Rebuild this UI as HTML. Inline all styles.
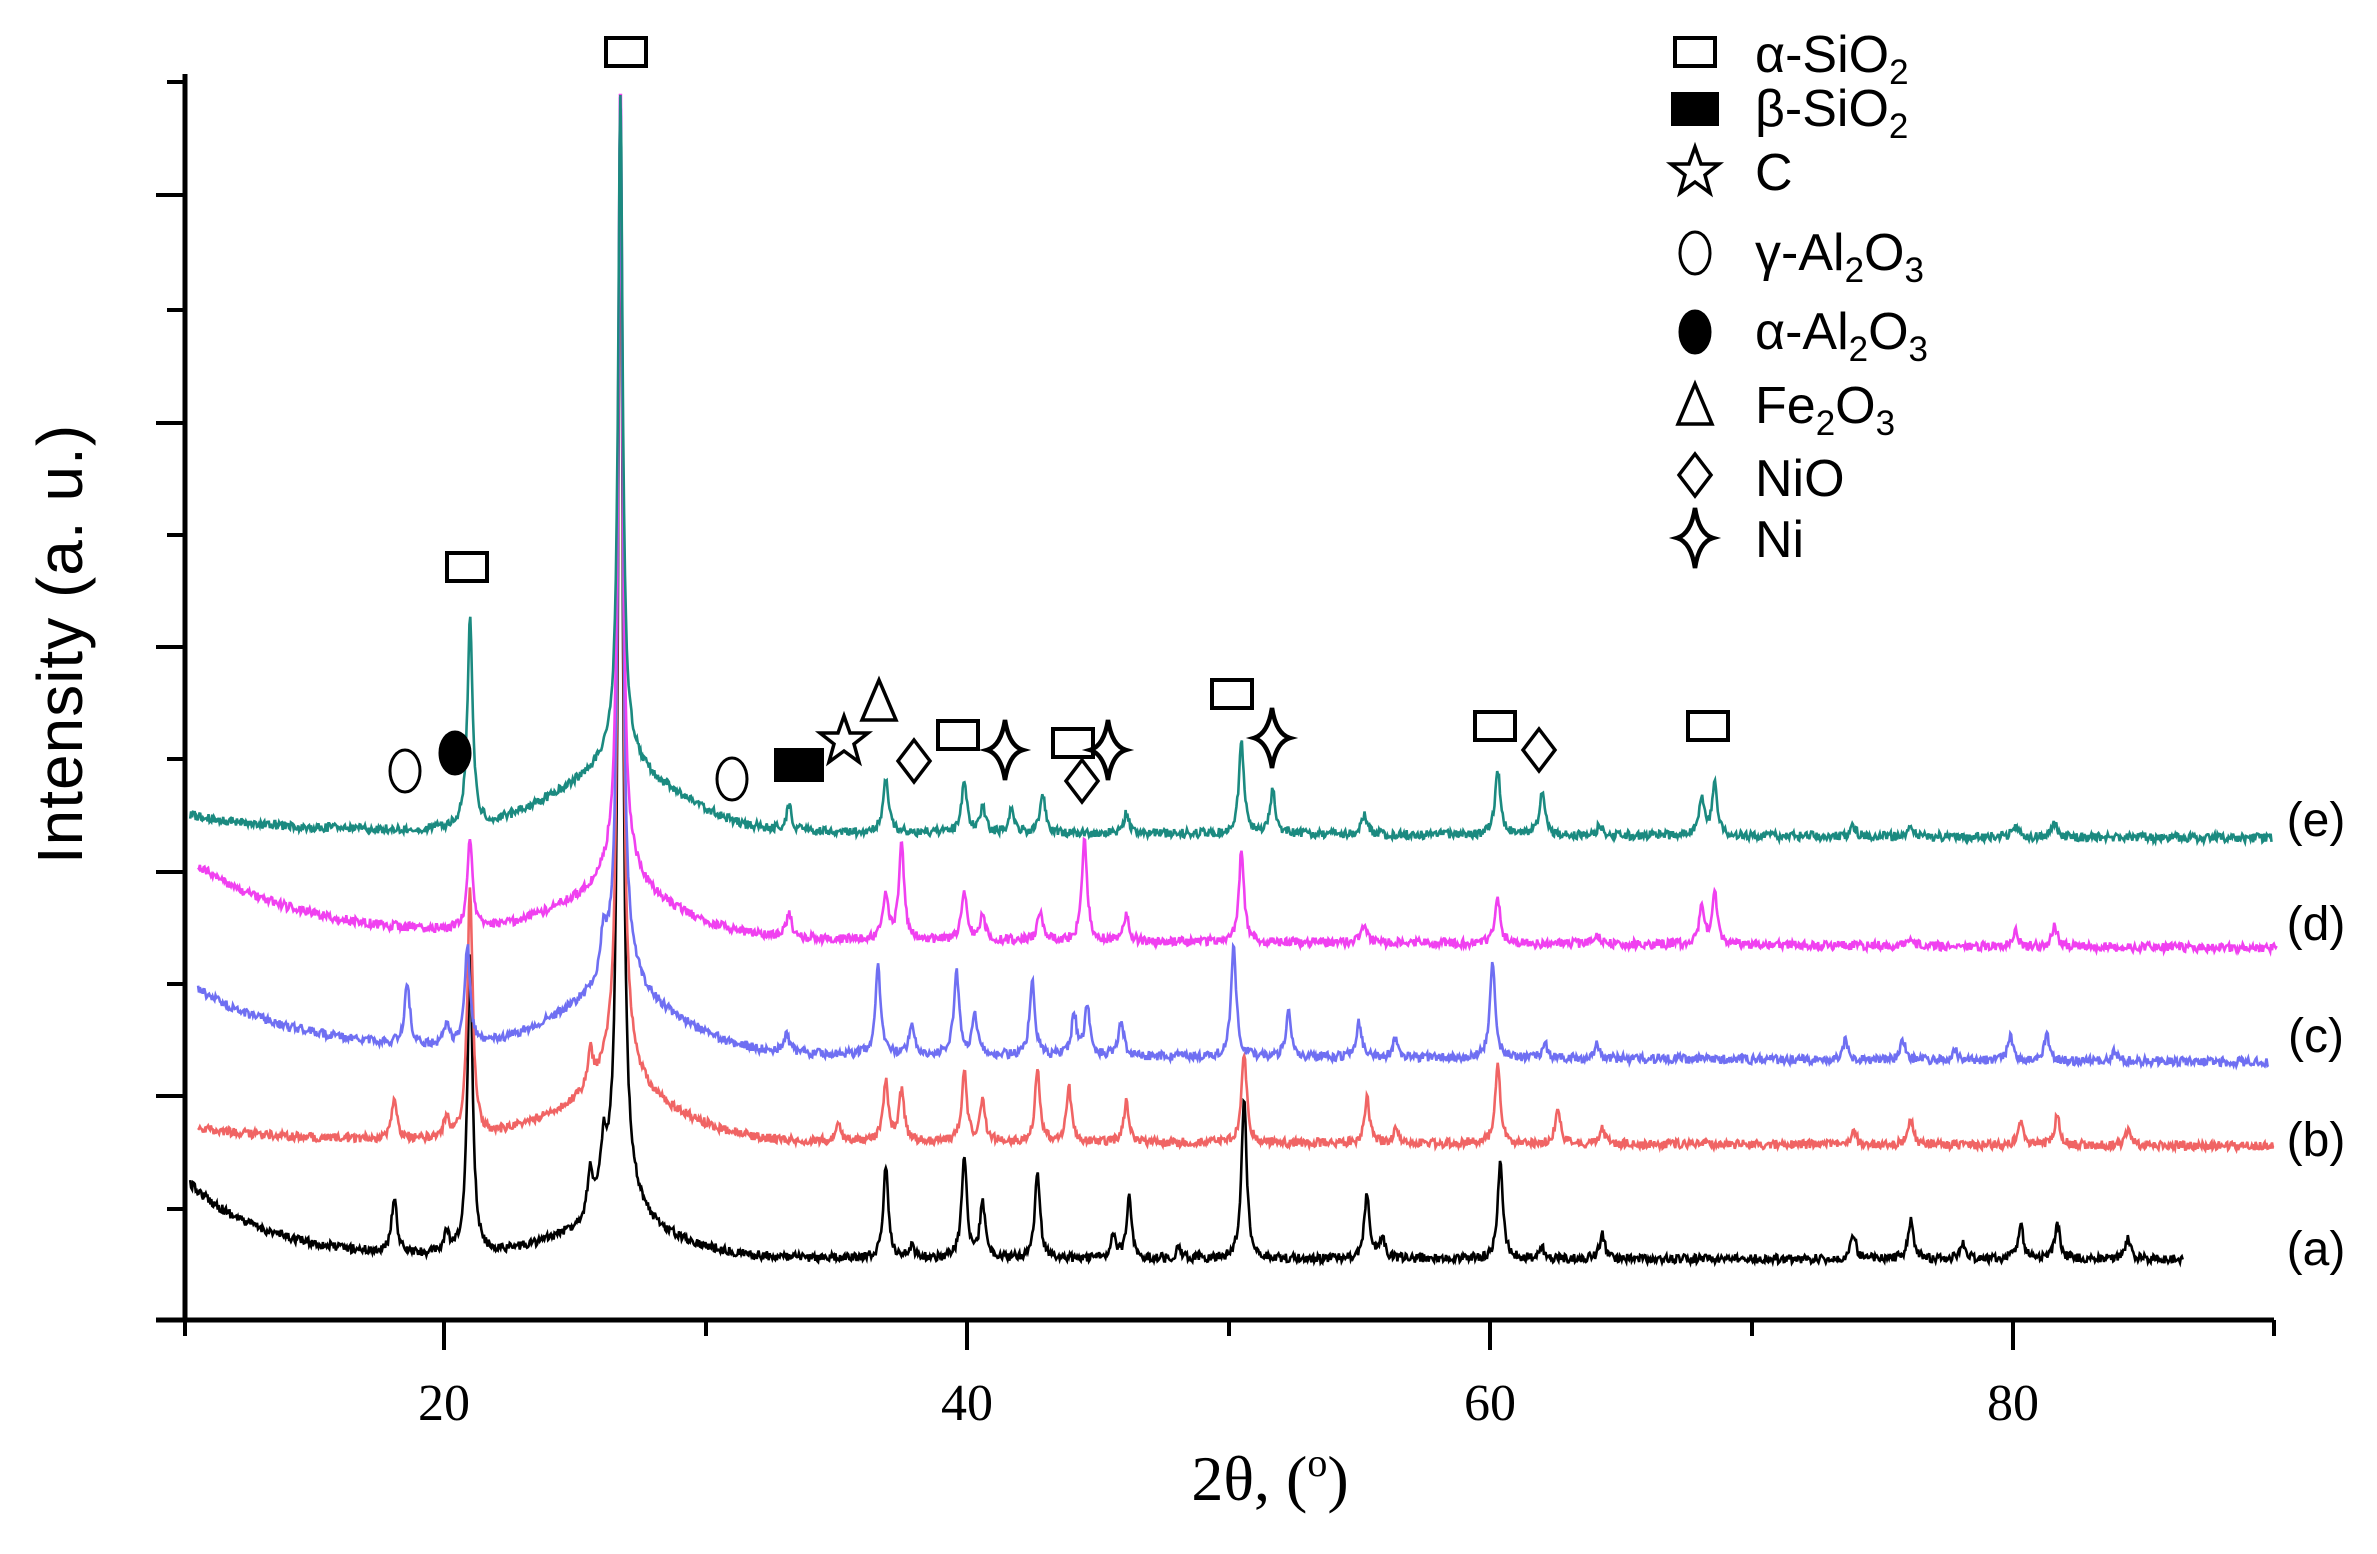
<!DOCTYPE html>
<html><head><meta charset="utf-8">
<style>
html,body{margin:0;padding:0;background:#fff;}
svg{display:block;}
</style></head>
<body>
<svg id="s" width="2377" height="1554" viewBox="0 0 2377 1554" xmlns="http://www.w3.org/2000/svg">
<rect width="2377" height="1554" fill="#fff"/>
<g id="series"></g>
<g stroke="#000" stroke-width="5" fill="none">
<line x1="185" y1="74" x2="185" y2="1322"/>
<line x1="156" y1="1320" x2="2274" y2="1320"/>
</g>
<g stroke="#000" stroke-width="4">
<line x1="156" y1="195" x2="185" y2="195"/><line x1="156" y1="423" x2="185" y2="423"/>
<line x1="156" y1="647" x2="185" y2="647"/><line x1="156" y1="872" x2="185" y2="872"/>
<line x1="156" y1="1096" x2="185" y2="1096"/>
<line x1="167" y1="82" x2="185" y2="82"/><line x1="167" y1="310" x2="185" y2="310"/>
<line x1="167" y1="535" x2="185" y2="535"/><line x1="167" y1="759" x2="185" y2="759"/>
<line x1="167" y1="984" x2="185" y2="984"/><line x1="167" y1="1209" x2="185" y2="1209"/>
<line x1="185" y1="1320" x2="185" y2="1336"/>
<line x1="444" y1="1320" x2="444" y2="1350"/><line x1="706" y1="1320" x2="706" y2="1336"/>
<line x1="967" y1="1320" x2="967" y2="1350"/><line x1="1229" y1="1320" x2="1229" y2="1336"/>
<line x1="1490" y1="1320" x2="1490" y2="1350"/><line x1="1752" y1="1320" x2="1752" y2="1336"/>
<line x1="2013" y1="1320" x2="2013" y2="1350"/><line x1="2274" y1="1320" x2="2274" y2="1336"/>
</g>
<g font-family="Liberation Serif, serif" font-size="52" text-anchor="middle" fill="#000">
<text x="444" y="1420">20</text><text x="967" y="1420">40</text>
<text x="1490" y="1420">60</text><text x="2013" y="1420">80</text>
<text x="1270" y="1500" font-size="64">2θ, (<tspan font-size="40" dy="-24">o</tspan><tspan dy="24">)</tspan></text>
</g>
<text transform="translate(82,644) rotate(-90)" font-family="Liberation Sans, sans-serif" font-size="64" text-anchor="middle" fill="#000" letter-spacing="1">Intensity  (a. u.)</text>
<g font-family="Liberation Sans, sans-serif" font-size="48" fill="#000" text-anchor="middle">
<text x="2316" y="836">(e)</text><text x="2316" y="940">(d)</text>
<text x="2316" y="1052">(c)</text><text x="2316" y="1156">(b)</text>
<text x="2316" y="1265">(a)</text>
</g>
<defs>
<path id="ni" d="M0,-30 Q4,-4 18,0 Q4,4 0,30 Q-4,4 -18,0 Q-4,-4 0,-30Z"/>
<path id="star" d="M0,-25 L6,-8 L24,-8 L10,3 L15,21 L0,10 L-15,21 L-10,3 L-24,-8 L-6,-8Z"/>
</defs>
<g stroke="#000" stroke-width="4" fill="#fff" id="marks"></g>
<g font-family="Liberation Sans, sans-serif" font-size="52" fill="#000">
<text x="1755" y="72">α-SiO<tspan font-size="35" dy="12">2</tspan></text>
<text x="1755" y="126">β-SiO<tspan font-size="35" dy="12">2</tspan></text>
<text x="1755" y="190">C</text>
<text x="1755" y="270">γ-Al<tspan font-size="35" dy="12">2</tspan><tspan dy="-12">O</tspan><tspan font-size="35" dy="12">3</tspan></text>
<text x="1755" y="349">α-Al<tspan font-size="35" dy="12">2</tspan><tspan dy="-12">O</tspan><tspan font-size="35" dy="12">3</tspan></text>
<text x="1755" y="423">Fe<tspan font-size="35" dy="12">2</tspan><tspan dy="-12">O</tspan><tspan font-size="35" dy="12">3</tspan></text>
<text x="1755" y="496">NiO</text>
<text x="1755" y="557">Ni</text>
</g>
<script>
(function(){
var NS="http://www.w3.org/2000/svg";
function X(d){return 185+(d-10)*26.15;}
var seed=12345;function rnd(){seed=(seed*16807)%2147483647;return seed/2147483647;}
var S=[
 {c:"#000000",d0:10.2,d1:86.4,base:1259,A:75,tau:3,hump:25,slope:0,main:1080,
  p:[[18,55],[20,20],[20.9,300],[25.5,45],[26.0,50],[36.8,90],[37.8,12],[39.8,100],[40.5,55],[42.6,85],[45.5,25],[46.1,60],[48,10],[50.5,160],[55.2,65],[55.8,20],[60.3,95],[61.9,10],[64.2,25],[73.8,25],[76.0,40],[78,15],[80.2,35],[81.6,35],[84.3,20]]},
 {c:"#f06464",d0:10.5,d1:89.9,base:1140,A:12,tau:3,hump:40,slope:6,main:960,
  p:[[18,40],[20,20],[20.9,250],[25.5,35],[35,15],[36.8,60],[37.4,50],[39.8,70],[40.5,40],[42.6,70],[43.8,55],[46,40],[50.5,90],[55.2,45],[56.3,15],[60.2,80],[62.5,35],[64.2,15],[73.8,15],[76,25],[80.2,25],[81.6,30],[84.3,15]]},
 {c:"#6f6ff2",d0:10.5,d1:89.7,base:1052,A:62,tau:4,hump:50,slope:10,main:870,
  p:[[18.5,60],[20,20],[20.8,100],[26.0,40],[33,20],[36.5,90],[37.8,30],[39.5,85],[40.2,40],[42.4,75],[44,40],[44.5,50],[45.8,35],[50.1,110],[52.2,45],[54.9,35],[56.3,20],[60.0,95],[62,15],[64,15],[73.5,20],[75.7,20],[77.7,10],[79.8,25],[81.2,25],[83.8,10]]},
 {c:"#f040f0",d0:10.5,d1:90,base:936,A:70,tau:4,hump:40,slope:12,main:790,
  p:[[20.9,90],[33.1,25],[36.8,45],[37.4,95],[39.8,50],[40.5,25],[42.7,30],[44.4,100],[46,25],[50.4,90],[55.1,20],[60.2,45],[64,10],[68,35],[68.5,50],[76,10],[80,15],[81.5,20]]},
 {c:"#1b8a80",d0:10.2,d1:89.8,base:830,A:15,tau:3,hump:55,slope:8,main:660,
  p:[[20.9,210],[33.1,25],[36.8,55],[39.8,50],[40.5,25],[41.6,25],[42.8,40],[46,20],[50.4,90],[51.6,45],[55.1,20],[60.2,65],[61.9,45],[64.1,10],[68,35],[68.5,50],[73.8,10],[76,10],[80,10],[81.5,15]]}
];
var g=document.getElementById("series");
S.forEach(function(s){
 var pts=[];
 for(var d=s.d0;d<=s.d1;d+=0.035){
  var y=s.base+s.slope*(d-10)/80 - s.A*Math.exp(-(d-s.d0)/s.tau) - s.hump*Math.exp(-Math.pow((d-26.5)/3.5,2));
  var h=0;
  s.p.forEach(function(q){var w=0.12;h+=q[1]/(1+Math.pow((d-q[0])/w,2));});
  h+=s.main/(1+Math.pow((d-26.65)/0.1,2));
  h+=s.main*0.06/(1+Math.pow((d-26.65)/0.7,2));
  y=y-h+(rnd()-0.5)*9;
  if(y<95)y=95;
  pts.push(X(d).toFixed(1)+","+y.toFixed(1));
 }
 var pl=document.createElementNS(NS,"polyline");
 pl.setAttribute("points",pts.join(" "));
 pl.setAttribute("fill","none");pl.setAttribute("stroke",s.c);pl.setAttribute("stroke-width","2.6");
 g.appendChild(pl);
});
var m=document.getElementById("marks");
function add(tag,attrs){var e=document.createElementNS(NS,tag);for(var k in attrs)e.setAttribute(k,attrs[k]);m.appendChild(e);return e;}
function sq(x,y,f){add("rect",{x:x-20,y:y-14,width:40,height:28,fill:f?"#000":"#fff"});}
function el(x,y,f){add("ellipse",{cx:x,cy:y,rx:15,ry:21,fill:f?"#000":"#fff","stroke-width":3});}
function di(x,y){add("path",{d:"M"+x+","+(y-21)+" l16,21 l-16,21 l-16,-21z","stroke-width":3.5});}
function tr(x,y){add("path",{d:"M"+x+","+(y-24)+" l17,40 h-34z","stroke-width":3.5});}
function ni(x,y){add("use",{href:"#ni",x:x,y:y,"stroke-width":4.5});}
function st(x,y){add("use",{href:"#star",x:x,y:y,"stroke-width":3.5});}
sq(626,52);sq(467,567);el(405,771);el(455,753,1);el(732,779);
add("rect",{x:776,y:750,width:46,height:30,fill:"#000"});
st(844,741);tr(879,704);di(914,761);sq(958,735);ni(1005,750);sq(1073,743);di(1082,781);ni(1108,750);
sq(1232,694);ni(1272,738);sq(1495,726);di(1539,750);sq(1708,726);
sq(1695,52);add("rect",{x:1673,y:94,width:44,height:30,fill:"#000"});st(1695,172);
el(1695,253);el(1695,332,1);tr(1695,408);di(1695,475);ni(1695,538);
})();
</script>
</svg>
</body></html>
